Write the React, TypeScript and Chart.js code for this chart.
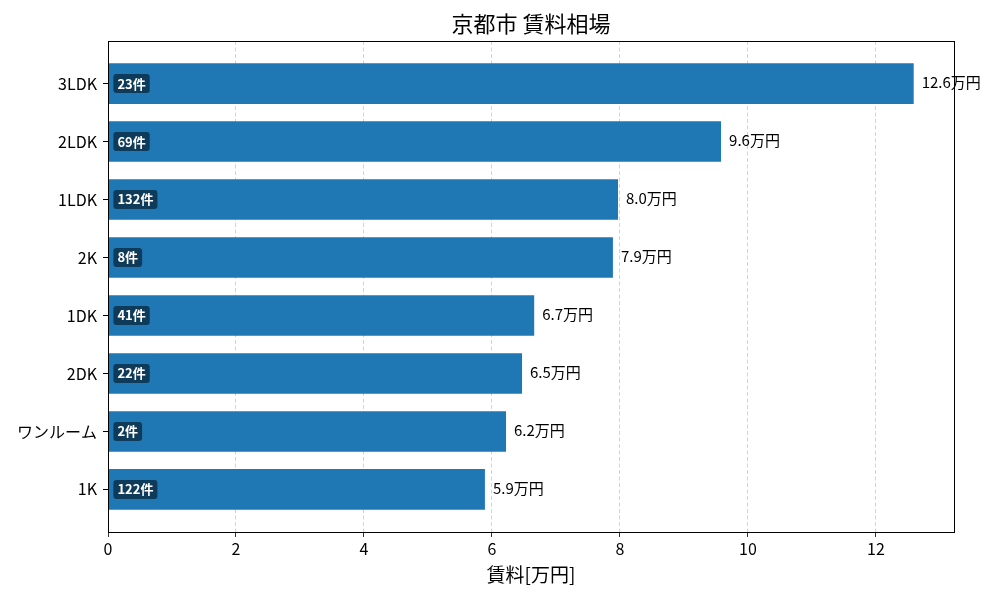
import { useEffect, useRef } from "react";
import { Chart, ChartConfiguration, Plugin, registerables } from "chart.js";

Chart.register(...registerables);

// 下から上の順 (1K が一番下)
const categories = ["1K", "ワンルーム", "2DK", "1DK", "2K", "1LDK", "2LDK", "3LDK"];
const rents = [5.89, 6.22, 6.47, 6.66, 7.89, 7.97, 9.58, 12.59];
const counts = [122, 2, 22, 41, 8, 132, 69, 23];

const TITLE = "京都市 賃料相場";
const X_LABEL = "賃料[万円]";
const FONT = "'Noto Sans CJK JP', 'Noto Sans', sans-serif";
const BAR_COLOR = "#1f77b4";

// バー上のラベル・タイトル・枠線
const labelPlugin: Plugin<"bar"> = {
  id: "barLabels",
  afterDatasetsDraw(chart) {
    const { ctx } = chart;
    const meta = chart.getDatasetMeta(0);
    ctx.save();
    meta.data.forEach((bar: any, i) => {
      const { x, y, base } = bar.getProps(["x", "y", "base"], true);
      // 件数 (バー内左)
      ctx.font = `bold 13px ${FONT}`;
      const txt = `${counts[i]}件`;
      const w = ctx.measureText(txt).width;
      const bx = base + 5;
      const bh = 19;
      ctx.fillStyle = "rgba(0, 0, 0, 0.5)";
      ctx.beginPath();
      ctx.roundRect(bx, y - bh / 2, w + 8, bh, 3);
      ctx.fill();
      ctx.fillStyle = "#fff";
      ctx.textAlign = "left";
      ctx.textBaseline = "middle";
      ctx.fillText(txt, bx + 4, y);
      // 賃料 (バー右)
      ctx.font = `15px ${FONT}`;
      ctx.fillStyle = "#000";
      ctx.fillText(`${rents[i].toFixed(1)}万円`, x + 8, y - 1);
    });
    ctx.restore();
  },
  afterDraw(chart) {
    const { ctx, chartArea } = chart;
    ctx.save();
    ctx.strokeStyle = "#000";
    ctx.lineWidth = 1;
    ctx.strokeRect(chartArea.left + 0.5, chartArea.top + 0.5, chartArea.right - chartArea.left, chartArea.bottom - chartArea.top);
    ctx.font = `22px ${FONT}`;
    ctx.fillStyle = "#000";
    ctx.textAlign = "center";
    ctx.textBaseline = "middle";
    ctx.fillText(TITLE, (chartArea.left + chartArea.right) / 2, 24);
    ctx.restore();
  },
};

export default function App() {
  const canvasRef = useRef<HTMLCanvasElement>(null);

  useEffect(() => {
    document.body.style.margin = "0";
    if (!canvasRef.current) return;

    const config: ChartConfiguration<"bar"> = {
      type: "bar",
      data: {
        datasets: [
          {
            data: rents.map((v, i) => ({ x: v, y: i })) as any,
            backgroundColor: BAR_COLOR,
            borderWidth: 0,
            categoryPercentage: 1,
            barPercentage: 0.7,
          },
        ],
      },
      options: {
        indexAxis: "y",
        responsive: true,
        maintainAspectRatio: false,
        animation: false,
        layout: { padding: { top: 41, right: 46, left: 0, bottom: 0 } },
        plugins: {
          legend: { display: false },
          tooltip: { enabled: false },
        },
        scales: {
          x: {
            type: "linear",
            min: 0,
            max: 13.22,
            afterFit: (scale) => {
              scale.height = 68;
            },
            ticks: {
              stepSize: 2,
              includeBounds: false,
              color: "#000",
              font: { family: FONT, size: 16 },
              padding: 2,
            },
            grid: {
              color: "rgba(176, 176, 176, 0.7)",
              lineWidth: 0.8,
              tickColor: "#000",
              tickLength: 5,
              tickBorderDash: [],
            },
            border: { display: true, color: "#000", width: 1, dash: [4, 2.5] },
            title: {
              display: true,
              text: X_LABEL,
              color: "#000",
              font: { family: FONT, size: 19 },
              padding: { top: 4, bottom: 14 },
            },
          },
          y: {
            type: "linear",
            min: -0.735,
            max: 7.735,
            offset: false,
            afterFit: (scale) => {
              scale.width = 108;
            },
            afterBuildTicks: (scale) => {
              scale.ticks = categories.map((_, i) => ({ value: i }));
            },
            ticks: {
              color: "#000",
              font: { family: FONT, size: 16 },
              padding: 6,
              callback: (v) => categories[Number(v)] ?? "",
            },
            grid: {
              offset: false,
              drawOnChartArea: false,
              tickColor: "#000",
              tickLength: 5,
            },
            border: { display: true, color: "#000", width: 1 },
          },
        },
      },
      plugins: [labelPlugin],
    };

    const chart = new Chart(canvasRef.current, config);
    return () => {
      chart.destroy();
    };
  }, []);

  return (
    <div style={{ width: 1000, height: 600, position: "relative" }}>
      <canvas ref={canvasRef} />
    </div>
  );
}
